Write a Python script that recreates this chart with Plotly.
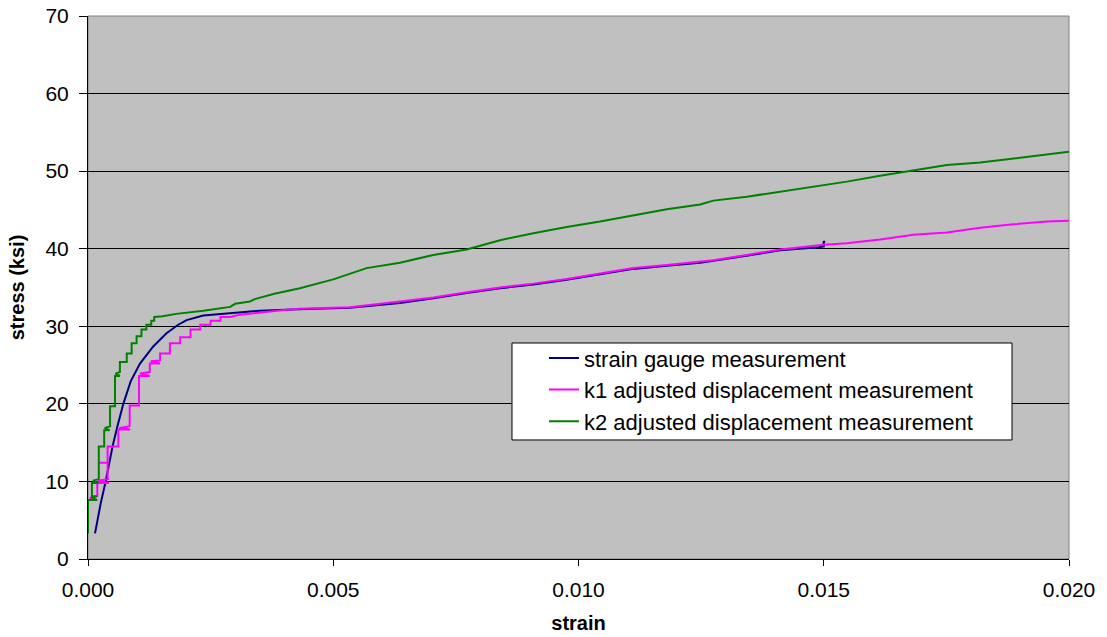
import plotly.graph_objects as go

# ---- data ----
gauge_strain = [0.000143, 0.00026, 0.00036, 0.00050, 0.00060, 0.00072, 0.00087, 0.00106, 0.00133,
                0.00160, 0.00184, 0.00201, 0.00235, 0.00269, 0.00350, 0.00430, 0.00534, 0.00636,
                0.00704, 0.00772, 0.00840, 0.00908, 0.00976, 0.01044, 0.01112, 0.01180, 0.01248,
                0.01343, 0.01411, 0.01490, 0.01500, 0.01500, 0.01502]
gauge_stress = [3.3, 7.2, 10.0, 14.5, 17.1, 20.0, 22.9, 25.2, 27.4,
                29.1, 30.2, 30.8, 31.4, 31.6, 32.0, 32.2, 32.4, 33.0,
                33.6, 34.3, 34.9, 35.4, 36.0, 36.7, 37.4, 37.8, 38.2,
                39.1, 39.8, 40.2, 40.3, 41.0, 40.8]

k1_strain = [0.00002, 0.00019, 0.00004, 0.00019, 0.00019, 0.00043, 0.00020, 0.00043, 0.00040,
             0.00040, 0.00022, 0.00040, 0.00040, 0.00062, 0.00062, 0.00086, 0.00064, 0.00086,
             0.00085, 0.00085, 0.00104, 0.00104, 0.00126, 0.00106, 0.00126, 0.00126, 0.00147,
             0.00128, 0.00147, 0.00147, 0.00167, 0.00167, 0.00188, 0.00188, 0.00209, 0.00209,
             0.00229, 0.00229, 0.00250, 0.00250, 0.00270, 0.00270, 0.00290, 0.00310, 0.00350,
             0.00400, 0.00430, 0.00534, 0.00636, 0.00704, 0.00772, 0.00840, 0.00908, 0.00976,
             0.01044, 0.01112, 0.01180, 0.01248, 0.01275, 0.01343, 0.01411, 0.01500, 0.01547,
             0.01615, 0.01683, 0.01751, 0.01819, 0.01886, 0.01955, 0.02000]
k1_stress = [7.6, 7.6, 7.9, 8.1, 9.8, 9.8, 10.1, 10.3, 10.3,
             12.4, 12.4, 12.4, 14.5, 14.5, 16.7, 16.7, 16.9, 17.1,
             17.1, 19.8, 19.8, 23.6, 23.6, 23.9, 24.1, 25.2, 25.2,
             25.5, 25.6, 26.5, 26.5, 27.8, 27.8, 28.6, 28.6, 29.6,
             29.6, 30.2, 30.2, 30.7, 30.7, 31.2, 31.2, 31.5, 31.8,
             32.1, 32.27, 32.45, 33.2, 33.7, 34.4, 35.0, 35.5, 36.1,
             36.8, 37.5, 37.9, 38.3, 38.5, 39.2, 39.9, 40.5, 40.7,
             41.2, 41.8, 42.1, 42.7, 43.15, 43.5, 43.6]

k2_strain = [0.0, 0.0, 0.00018, 0.00008, 0.00018, 0.00008, 0.00008, 0.00021, 0.00010, 0.00022,
             0.00022, 0.00033, 0.00033, 0.00044, 0.00034, 0.00045, 0.00045, 0.00055, 0.00055,
             0.00065, 0.00056, 0.00065, 0.00065, 0.00079, 0.00079, 0.00089, 0.00089, 0.00099,
             0.00099, 0.00109, 0.00109, 0.00119, 0.00119, 0.00129, 0.00129, 0.00135, 0.00135,
             0.00152, 0.00180, 0.00235, 0.00290, 0.00300, 0.00330, 0.00340, 0.00380, 0.00432,
             0.00500, 0.00568, 0.00636, 0.00704, 0.00772, 0.00840, 0.00908, 0.00976, 0.01044,
             0.01112, 0.01180, 0.01248, 0.01275, 0.01343, 0.01411, 0.01479, 0.01547, 0.01615,
             0.01683, 0.01751, 0.01819, 0.01886, 0.01955, 0.02000]
k2_stress = [3.3, 7.6, 7.6, 7.9, 8.1, 8.1, 9.8, 9.8, 10.1, 10.3,
             14.5, 14.5, 16.6, 16.6, 16.9, 17.1, 19.7, 19.7, 23.6,
             23.6, 23.9, 24.1, 25.4, 25.4, 26.5, 26.5, 27.8, 27.8,
             28.7, 28.7, 29.6, 29.6, 30.2, 30.2, 30.7, 30.7, 31.2,
             31.3, 31.6, 32.0, 32.5, 32.9, 33.2, 33.5, 34.2, 34.9,
             36.05, 37.5, 38.2, 39.2, 39.9, 41.1, 42.0, 42.8, 43.5,
             44.3, 45.1, 45.7, 46.2, 46.7, 47.35, 48.0, 48.65, 49.4,
             50.1, 50.8, 51.1, 51.65, 52.2, 52.5]

series_names = ["strain gauge measurement",
                "k1 adjusted displacement measurement",
                "k2 adjusted displacement measurement"]
series_colors = ["#000080", "#FF00FF", "#008000"]

y_ticks = [0, 10, 20, 30, 40, 50, 60, 70]
x_ticks = [0.0, 0.005, 0.010, 0.015, 0.020]

# ---- figure ----
fig = go.Figure()
for xs, ys, name, col in zip([gauge_strain, k1_strain, k2_strain],
                             [gauge_stress, k1_stress, k2_stress],
                             series_names, series_colors):
    fig.add_trace(go.Scatter(x=xs, y=ys, mode="lines", name=name,
                             line=dict(color=col, width=2)))

font_family = "Liberation Sans, Arial, sans-serif"

fig.update_layout(
    width=1107, height=637,
    margin=dict(l=88, r=38, t=16, b=78),
    paper_bgcolor="white",
    plot_bgcolor="#C0C0C0",
    font=dict(family=font_family, color="black", size=21),
    showlegend=True,
    legend=dict(
        x=0.4648, y=0.4086, xanchor="left", yanchor="top",
        bgcolor="rgba(0,0,0,0)", borderwidth=0,
        font=dict(family=font_family, size=22, color="black"),
        tracegroupgap=0,
    ),
    xaxis=dict(
        range=[0, 0.02], tickvals=x_ticks, tickformat=".3f",
        showgrid=False, zeroline=False, automargin=False,
        showline=True, linecolor="black", linewidth=1,
        ticks="outside", ticklen=6, tickcolor="black",
        tickfont=dict(size=21), ticklabelstandoff=6,
        title=dict(text="<b>strain</b>", font=dict(size=20), standoff=15),
    ),
    yaxis=dict(
        range=[0, 70], tickvals=y_ticks,
        showgrid=True, gridcolor="black", gridwidth=1,
        zeroline=False, automargin=False,
        showline=True, linecolor="black", linewidth=1,
        ticks="outside", ticklen=8, tickcolor="black",
        tickfont=dict(size=21), ticklabelstandoff=6,
        title=dict(text="<b>stress (ksi)</b>", font=dict(size=20), standoff=15),
    ),
    shapes=[
        dict(type="rect", xref="paper", yref="paper", x0=0, x1=1, y0=0, y1=1,
             line=dict(color="#808080", width=1), fillcolor="rgba(0,0,0,0)", layer="below"),
        dict(type="rect", xref="paper", yref="paper", x0=0.4322, x1=0.9419, y0=0.2192, y1=0.3978,
             line=dict(color="black", width=1), fillcolor="white", layer="above"),
    ],
)

fig.write_html("out.html")
